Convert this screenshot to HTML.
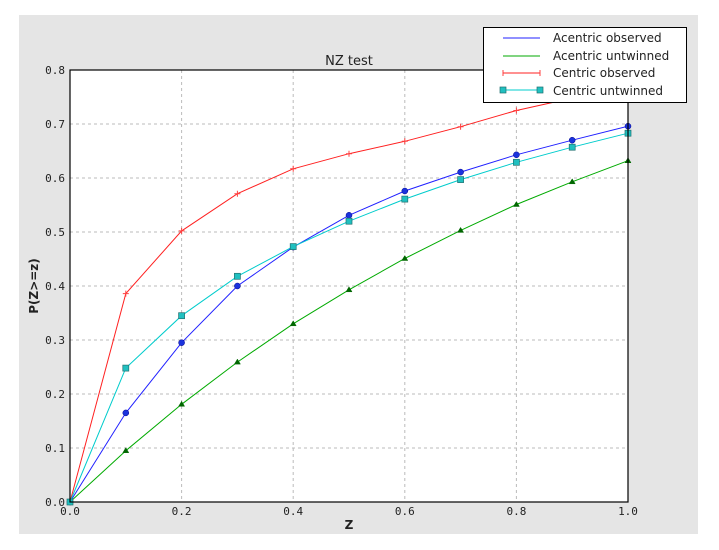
<!DOCTYPE html>
<html><head><meta charset="utf-8"><style>
html,body{margin:0;padding:0;background:#fff;}
svg{display:block;}
</style></head><body>
<svg width="719" height="550" xmlns="http://www.w3.org/2000/svg">
<rect x="19" y="15" width="679" height="519" fill="#e5e5e5"/>
<rect x="70" y="70" width="558" height="432" fill="#fff"/>
<g stroke="#bbb" stroke-dasharray="3,3" stroke-width="1">
<line x1="181.6" y1="70" x2="181.6" y2="502"/><line x1="293.2" y1="70" x2="293.2" y2="502"/>
<line x1="404.8" y1="70" x2="404.8" y2="502"/><line x1="516.4" y1="70" x2="516.4" y2="502"/>
<line x1="70" y1="448" x2="628" y2="448"/><line x1="70" y1="394" x2="628" y2="394"/>
<line x1="70" y1="340" x2="628" y2="340"/><line x1="70" y1="286" x2="628" y2="286"/>
<line x1="70" y1="232" x2="628" y2="232"/><line x1="70" y1="178" x2="628" y2="178"/>
<line x1="70" y1="124" x2="628" y2="124"/>
</g>
<g fill="none" stroke-width="1">
<polyline stroke="#ff2020" points="70,502 125.8,293.6 181.6,230.9 237.4,193.7 293.2,168.8 349,153.7 404.8,141.3 460.6,126.7 516.4,110.5 572.2,98.1 628,86.2"/>
<polyline stroke="#00aa00" points="70,502 125.8,450.7 181.6,404.3 237.4,362.1 293.2,323.8 349,289.8 404.8,258.5 460.6,230.4 516.4,204.5 572.2,181.8 628,160.7"/>
<polyline stroke="#2020ff" points="70,502 125.8,412.9 181.6,342.7 237.4,286 293.2,247.1 349,215.3 404.8,191 460.6,172.1 516.4,154.8 572.2,140.2 628,126.2"/>
<polyline stroke="#00cccc" points="70,502 125.8,368.1 181.6,315.7 237.4,276.3 293.2,246.6 349,221.2 404.8,199.1 460.6,179.6 516.4,162.3 572.2,147.2 628,133.2"/>
</g>
<g stroke="#ff4040" stroke-width="1">
<path d="M122.8,293.6h6M125.8,290.6v6M178.6,230.9h6M181.6,227.9v6M234.4,193.7h6M237.4,190.7v6M290.2,168.8h6M293.2,165.8v6M346,153.7h6M349,150.7v6M401.8,141.3h6M404.8,138.3v6M457.6,126.7h6M460.6,123.7v6M513.4,110.5h6M516.4,107.5v6"/>
</g>
<g fill="#006600" stroke="#006600" stroke-width="0.5">
<path d="M70,499l3,5h-6z"/>
<path d="M125.8,447.7l3,5h-6z"/><path d="M181.6,401.3l3,5h-6z"/><path d="M237.4,359.1l3,5h-6z"/><path d="M293.2,320.8l3,5h-6z"/><path d="M349,286.8l3,5h-6z"/><path d="M404.8,255.5l3,5h-6z"/><path d="M460.6,227.4l3,5h-6z"/><path d="M516.4,201.5l3,5h-6z"/><path d="M572.2,178.8l3,5h-6z"/><path d="M628,157.7l3,5h-6z"/>
</g>
<g fill="#1a33dd" stroke="#000088" stroke-width="0.5">
<circle cx="70" cy="502" r="3"/><circle cx="125.8" cy="412.9" r="3"/><circle cx="181.6" cy="342.7" r="3"/><circle cx="237.4" cy="286" r="3"/><circle cx="293.2" cy="247.1" r="3"/><circle cx="349" cy="215.3" r="3"/><circle cx="404.8" cy="191" r="3"/><circle cx="460.6" cy="172.1" r="3"/><circle cx="516.4" cy="154.8" r="3"/><circle cx="572.2" cy="140.2" r="3"/><circle cx="628" cy="126.2" r="3"/>
</g>
<g fill="#20c0c0" stroke="#207070" stroke-width="0.7">
<rect x="67" y="499" width="6" height="6"/><rect x="122.8" y="365.1" width="6" height="6"/><rect x="178.6" y="312.7" width="6" height="6"/><rect x="234.4" y="273.3" width="6" height="6"/><rect x="290.2" y="243.6" width="6" height="6"/><rect x="346" y="218.2" width="6" height="6"/><rect x="401.8" y="196.1" width="6" height="6"/><rect x="457.6" y="176.6" width="6" height="6"/><rect x="513.4" y="159.3" width="6" height="6"/><rect x="569.2" y="144.2" width="6" height="6"/><rect x="625" y="130.2" width="6" height="6"/>
</g>
<rect x="70" y="70" width="558" height="432" fill="none" stroke="#000" stroke-width="1.2"/>
<g font-family="'DejaVu Sans Mono','Liberation Mono',monospace" font-size="11" fill="#222">
<g text-anchor="end">
<text x="65" y="506">0.0</text><text x="65" y="452">0.1</text><text x="65" y="398">0.2</text><text x="65" y="344">0.3</text><text x="65" y="290">0.4</text><text x="65" y="236">0.5</text><text x="65" y="182">0.6</text><text x="65" y="128">0.7</text><text x="65" y="74">0.8</text>
</g>
<g text-anchor="middle">
<text x="70" y="515">0.0</text><text x="181.6" y="515">0.2</text><text x="293.2" y="515">0.4</text><text x="404.8" y="515">0.6</text><text x="516.4" y="515">0.8</text><text x="628" y="515">1.0</text>
</g>
</g>
<g font-family="'DejaVu Sans','Liberation Sans',sans-serif" fill="#222">
<text x="349" y="65" font-size="13" text-anchor="middle">NZ test</text>
<text x="349" y="529" font-size="12" font-weight="bold" text-anchor="middle">Z</text>
<text transform="translate(38,286) rotate(-90)" font-size="12" font-weight="bold" text-anchor="middle">P(Z&gt;=z)</text>
</g>
<rect x="483.5" y="27.5" width="203" height="75" fill="#fff" stroke="#000" stroke-width="1"/>
<line x1="503" y1="38" x2="540" y2="38" stroke="#2020ff"/>
<line x1="503" y1="56" x2="540" y2="56" stroke="#00aa00"/>
<line x1="503" y1="73" x2="540" y2="73" stroke="#ff2020"/>
<path d="M503,70v6M540,70v6" stroke="#ff4040"/>
<line x1="503" y1="90" x2="540" y2="90" stroke="#00cccc"/>
<rect x="500" y="87" width="6" height="6" fill="#20c0c0" stroke="#207070" stroke-width="0.7"/>
<rect x="537" y="87" width="6" height="6" fill="#20c0c0" stroke="#207070" stroke-width="0.7"/>
<g font-family="'DejaVu Sans','Liberation Sans',sans-serif" font-size="12" fill="#222">
<text x="553" y="42">Acentric observed</text>
<text x="553" y="60">Acentric untwinned</text>
<text x="553" y="77">Centric observed</text>
<text x="553" y="95">Centric untwinned</text>
</g>
</svg>
</body></html>
